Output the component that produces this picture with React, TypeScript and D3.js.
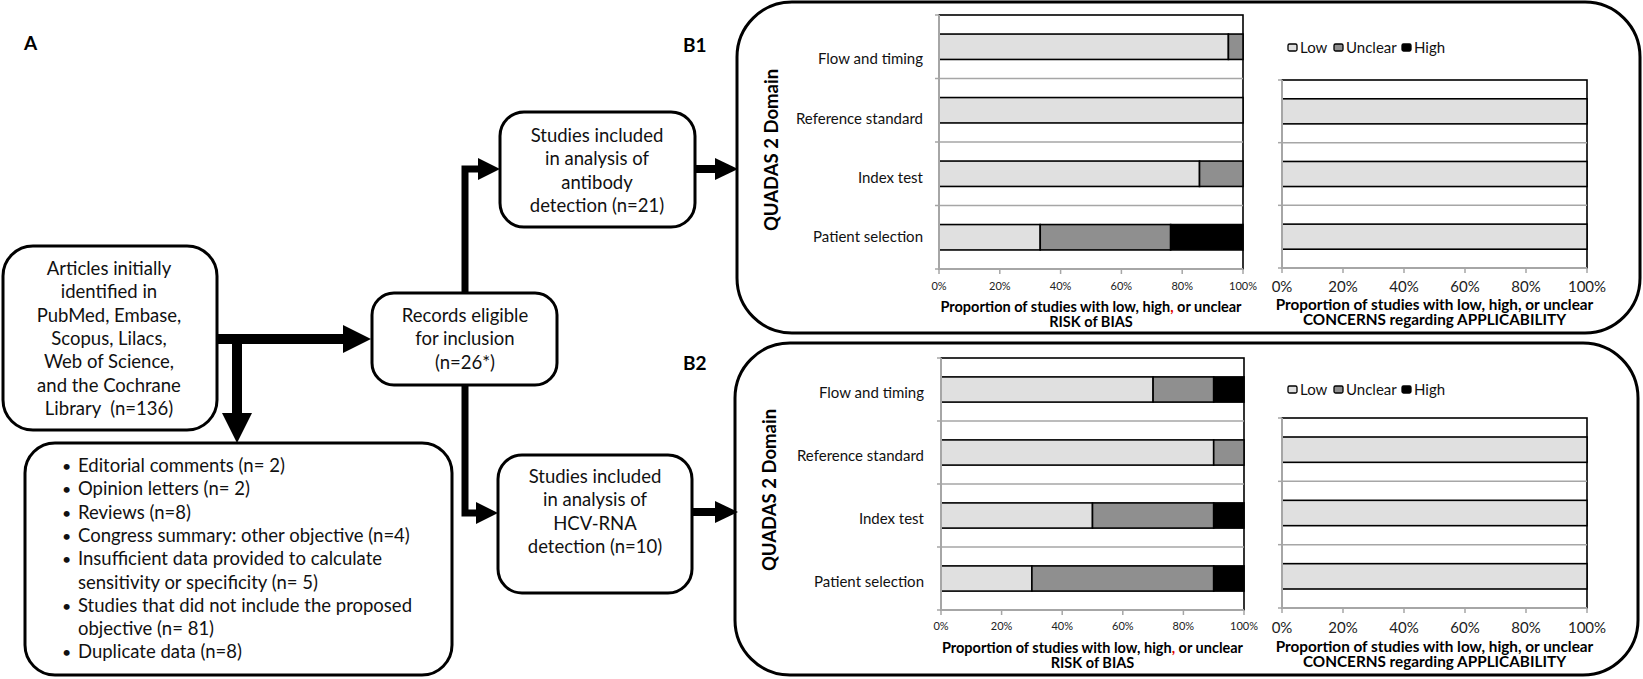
import React from "react";
import * as d3 from "d3";

// ---------- data ----------
const riskDomains = ["Flow and timing", "Reference standard", "Index test", "Patient selection"];
const applicabilityDomains = ["Reference standard", "Index test", "Patient selection"];
const legendKeys = ["Low", "Unclear", "High"];
const pctTicks = [0, 20, 40, 60, 80, 100];

// B1: antibody detection (n=21)
const b1RiskLow = [95.2, 100, 85.7, 33.3];
const b1RiskUnclear = [4.8, 0, 14.3, 42.9];
const b1RiskHigh = [0, 0, 0, 23.8];
const b1AppLow = [100, 100, 100];
const b1AppUnclear = [0, 0, 0];
const b1AppHigh = [0, 0, 0];

// B2: HCV-RNA detection (n=10)
const b2RiskLow = [70, 90, 50, 30];
const b2RiskUnclear = [20, 10, 40, 60];
const b2RiskHigh = [10, 0, 10, 10];
const b2AppLow = [100, 100, 100];
const b2AppUnclear = [0, 0, 0];
const b2AppHigh = [0, 0, 0];

const articlesText = ["Articles initially", "identified in", "PubMed, Embase,", "Scopus, Lilacs,", "Web of Science,", "and the Cochrane", "Library\u00a0 (n=136)"];
const recordsText = ["Records eligible", "for inclusion", "(n=26*)"];
const antibodyText = ["Studies included", "in analysis of", "antibody", "detection (n=21)"];
const rnaText = ["Studies included", "in analysis of", "HCV-RNA", "detection (n=10)"];
const excludedItems = [
  ["Editorial comments (n= 2)"],
  ["Opinion letters (n= 2)"],
  ["Reviews (n=8)"],
  ["Congress summary: other objective (n=4)"],
  ["Insufficient data provided to calculate", "sensitivity or specificity (n= 5)"],
  ["Studies that did not include the proposed", "objective (n= 81)"],
  ["Duplicate data (n=8)"],
];

const COLORS: Record<string, string> = { Low: "#e0e0e0", Unclear: "#8f8f8f", High: "#000000" };
const FONT = "Lato, 'Open Sans', sans-serif";
const GRAY = "#a6a6a6";

type ChartProps = {
  x0: number; x1: number; y0: number; y1: number;
  cats: string[]; low: number[]; unclear: number[]; high: number[];
  tickSize: number; tickY: number;
  titleSize: number; title1Y: number; title2Y: number; title2: string; red: boolean;
  labels?: { size: number; top: number; bottom: number; xRight: number };
};

function StackedChart(p: ChartProps) {
  const x = d3.scaleLinear().domain([0, 100]).range([p.x0, p.x1]);
  const y = d3.scaleBand<string>().domain(p.cats).range([p.y0, p.y1]).paddingInner(0.6).paddingOuter(0.3);
  const rows = p.cats.map((c, i) => ({ cat: c, Low: p.low[i], Unclear: p.unclear[i], High: p.high[i] }));
  const series = d3.stack<any>().keys(legendKeys)(rows);
  const step = y.step();
  const bounds = d3.range(p.cats.length + 1).map((i) => p.y0 + i * step);
  const cx = (p.x0 + p.x1) / 2;
  const labelScale = p.labels ? d3.scalePoint<string>().domain(p.cats).range([p.labels.top, p.labels.bottom]) : null;
  return (
    <g>
      <rect x={p.x0} y={p.y0} width={p.x1 - p.x0} height={p.y1 - p.y0} fill="#fff" stroke="#000" strokeWidth={1.6} />
      {bounds.slice(1, -1).map((b, i) => (
        <line key={"g" + i} x1={p.x0} x2={p.x1} y1={b} y2={b} stroke={GRAY} strokeWidth={1.5} />
      ))}
      {series.map((s) =>
        s.map((d, i) =>
          d[1] - d[0] > 0 ? (
            <rect key={s.key + i} x={x(d[0])} width={x(d[1]) - x(d[0])} y={y(rows[i].cat)} height={y.bandwidth()}
              fill={COLORS[s.key]} stroke="#000" strokeWidth={1.6} />
          ) : null
        )
      )}
      <line x1={p.x0} x2={p.x0} y1={p.y0} y2={p.y1} stroke={GRAY} strokeWidth={2} />
      <line x1={p.x0} x2={p.x1} y1={p.y1} y2={p.y1} stroke={GRAY} strokeWidth={2} />
      {bounds.map((b, i) => (
        <line key={"yt" + i} x1={p.x0 - 4} x2={p.x0} y1={b} y2={b} stroke={GRAY} strokeWidth={1.5} />
      ))}
      {pctTicks.map((t) => (
        <g key={"xt" + t}>
          <line x1={x(t)} x2={x(t)} y1={p.y1} y2={p.y1 + 5} stroke={GRAY} strokeWidth={1.5} />
          <text x={x(t)} y={p.tickY} textAnchor="middle" fontSize={p.tickSize} fill="#222">{t + "%"}</text>
        </g>
      ))}
      <text x={cx} y={p.title1Y} textAnchor="middle" fontSize={p.titleSize} fontWeight="bold" fill="#000">
        <tspan>Proportion of studies with low, high</tspan>
        <tspan fill={p.red ? "#e00000" : "#000"}>,</tspan>
        <tspan> or unclear</tspan>
      </text>
      <text x={cx} y={p.title2Y} textAnchor="middle" fontSize={p.titleSize} fontWeight="bold" fill="#000">{p.title2}</text>
      {p.labels && labelScale &&
        p.cats.map((c) => (
          <text key={"l" + c} x={p.labels!.xRight} y={labelScale(c)} dy="0.35em" textAnchor="end" fontSize={p.labels!.size} fill="#111">{c}</text>
        ))}
    </g>
  );
}

function Legend({ x, y }: { x: number; y: number }) {
  const widths = [46, 68, 40];
  let cur = x;
  return (
    <g>
      {legendKeys.map((k, i) => {
        const gx = cur;
        cur += widths[i];
        return (
          <g key={k}>
            <rect x={gx} y={y - 4} width={9} height={7} rx={1.5} fill={COLORS[k]} stroke="#000" strokeWidth={1.3} />
            <text x={gx + 12} y={y} dy="0.35em" fontSize={15} fill="#111">{k}</text>
          </g>
        );
      })}
    </g>
  );
}

function Box({ x, y, w, h, lines, cx, firstY, r = 26 }: { x: number; y: number; w: number; h: number; lines: string[]; cx: number; firstY: number; r?: number }) {
  return (
    <g>
      <rect x={x} y={y} width={w} height={h} rx={r} ry={r} fill="#fff" stroke="#000" strokeWidth={3} />
      {lines.map((l, i) => (
        <text key={i} x={cx} y={firstY + i * 23.3} textAnchor="middle" fontSize={18.5} fill="#111">{l}</text>
      ))}
    </g>
  );
}

function Arrow({ points, w, head, hw }: { points: [number, number][]; w: number; head: number; hw: number }) {
  const n = points.length;
  const [ax, ay] = points[n - 2];
  const [bx, by] = points[n - 1];
  const len = Math.hypot(bx - ax, by - ay);
  const ux = (bx - ax) / len, uy = (by - ay) / len;
  const baseX = bx - ux * head, baseY = by - uy * head;
  const px = -uy, py = ux;
  const linePts = points.slice(0, n - 1).concat([[baseX + ux * 1, baseY + uy * 1]]);
  const line = d3.line()(linePts as [number, number][]) || "";
  const tri = `M${bx},${by}L${baseX + px * hw},${baseY + py * hw}L${baseX - px * hw},${baseY - py * hw}Z`;
  return (
    <g>
      <path d={line} fill="none" stroke="#000" strokeWidth={w} strokeLinejoin="miter" />
      <path d={tri} fill="#000" />
    </g>
  );
}

export default function App() {
  return (
    <div style={{ position: "absolute", left: 0, top: 0 }}>
      <svg width={1643} height={679} fontFamily={FONT} style={{ display: "block", background: "#fff" }}>
        {/* Panel A */}
        <text x={24} y={50} fontSize={19} fontWeight="bold">A</text>
        <text x={683} y={52} fontSize={19} fontWeight="bold">B1</text>
        <text x={683} y={370} fontSize={19} fontWeight="bold">B2</text>

        <Arrow points={[[215, 339], [371, 339]]} w={10} head={28} hw={14} />
        <Arrow points={[[237, 339], [237, 443]]} w={10} head={30} hw={15} />
        <Arrow points={[[465, 295], [465, 169], [500, 169]]} w={7} head={22} hw={11} />
        <Arrow points={[[465, 383], [465, 513], [498, 513]]} w={7} head={22} hw={11} />
        <Arrow points={[[693, 169], [738, 169]]} w={8} head={23} hw={11} />
        <Arrow points={[[690, 512], [738, 512]]} w={8} head={23} hw={11} />

        <Box x={3} y={246} w={214} h={184} lines={articlesText} cx={109} firstY={275} r={30} />
        <Box x={372} y={293} w={185} h={92} lines={recordsText} cx={465} firstY={322} r={22} />
        <Box x={500} y={112} w={195} h={115} lines={antibodyText} cx={597} firstY={142} r={24} />
        <Box x={498} y={455} w={194} h={138} lines={rnaText} cx={595} firstY={483} r={24} />

        <rect x={25} y={443} width={427} height={232} rx={30} ry={30} fill="#fff" stroke="#000" strokeWidth={3} />
        {(() => {
          let row = 0;
          return excludedItems.map((item, i) => {
            const els = item.map((line, j) => {
              const yy = 472 + (row + j) * 23.3;
              return (
                <g key={j}>
                  {j === 0 && <text x={62} y={yy} fontSize={16} fill="#111">•</text>}
                  <text x={78} y={yy} fontSize={18.5} fill="#111">{line}</text>
                </g>
              );
            });
            row += item.length;
            return <g key={i}>{els}</g>;
          });
        })()}

        {/* Panel B1 */}
        <rect x={737} y={2} width={903} height={331} rx={55} ry={55} fill="none" stroke="#000" strokeWidth={3} />
        <text transform="translate(778,150) rotate(-90)" textAnchor="middle" fontSize={18.5} fontWeight="bold">QUADAS 2 Domain</text>
        <StackedChart x0={939} x1={1243} y0={15} y1={269} cats={riskDomains} low={b1RiskLow} unclear={b1RiskUnclear} high={b1RiskHigh}
          tickSize={11} tickY={290} titleSize={14.5} title1Y={312} title2Y={327} title2="RISK of BIAS" red={true}
          labels={{ size: 15, top: 59, bottom: 237, xRight: 923 }} />
        <StackedChart x0={1282} x1={1587} y0={80} y1={268} cats={applicabilityDomains} low={b1AppLow} unclear={b1AppUnclear} high={b1AppHigh}
          tickSize={15} tickY={292} titleSize={15.3} title1Y={310} title2Y={325} title2="CONCERNS regarding APPLICABILITY" red={false} />
        <Legend x={1288} y={48} />

        {/* Panel B2 */}
        <rect x={735} y={343} width={903} height={332} rx={55} ry={55} fill="none" stroke="#000" strokeWidth={3} />
        <text transform="translate(776,490) rotate(-90)" textAnchor="middle" fontSize={18.5} fontWeight="bold">QUADAS 2 Domain</text>
        <StackedChart x0={941} x1={1244} y0={358} y1={610} cats={riskDomains} low={b2RiskLow} unclear={b2RiskUnclear} high={b2RiskHigh}
          tickSize={11} tickY={630} titleSize={14.5} title1Y={653} title2Y={668} title2="RISK of BIAS" red={true}
          labels={{ size: 15, top: 393, bottom: 582, xRight: 924 }} />
        <StackedChart x0={1282} x1={1587} y0={418} y1={608} cats={applicabilityDomains} low={b2AppLow} unclear={b2AppUnclear} high={b2AppHigh}
          tickSize={15} tickY={633} titleSize={15.3} title1Y={652} title2Y={667} title2="CONCERNS regarding APPLICABILITY" red={false} />
        <Legend x={1288} y={390} />
      </svg>
    </div>
  );
}
